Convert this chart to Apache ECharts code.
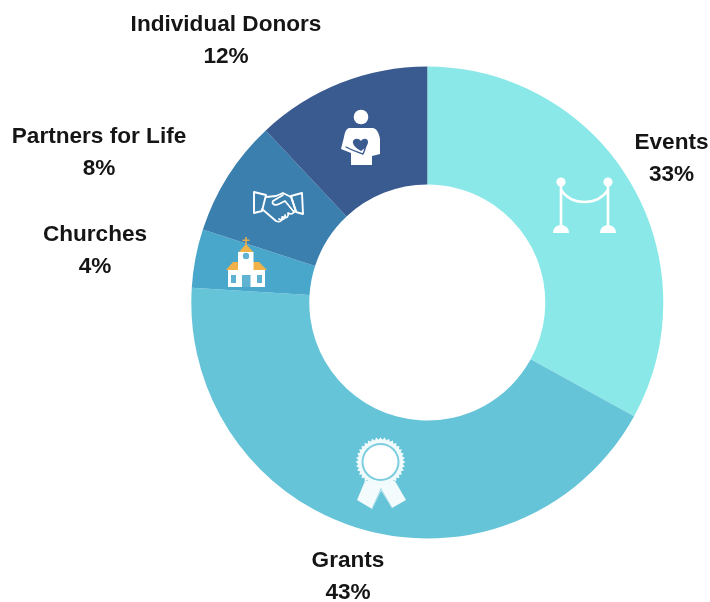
<!DOCTYPE html>
<html><head><meta charset="utf-8">
<style>html,body{margin:0;padding:0;background:#fff}#c{width:710px;height:602px}</style>
<script src="https://cdn.jsdelivr.net/npm/echarts@6/dist/echarts.min.js"></script>
</head><body><div id="c"></div>
<script>
const categories = ["Events","Grants","Churches","Partners for Life","Individual Donors"];
const values = [33,43,4,8,12];
const colors = ["#8AE8E8","#66C4D8","#48A7CA","#3A7FAE","#3A5B90"];
const labelCenters = [[671.5,159],[348,577],[95,251],[99,153],[226,41]];

const W="#ffffff";
function line(d,w,c){return {type:'path',shape:{pathData:d},style:{fill:'none',stroke:c||W,lineWidth:w,lineCap:'round',lineJoin:'round'}};}
function fill(d,c){return {type:'path',shape:{pathData:d},style:{fill:c||W}};}
function circ(x,y,r,c){return {type:'circle',shape:{cx:x,cy:y,r:r},style:{fill:c||W}};}
function rect(x,y,w,h,c){return {type:'rect',shape:{x:x,y:y,width:w,height:h},style:{fill:c||W}};}
function rosetteEdge(){let d="";const n=36;for(let i=0;i<n*2;i++){const r=i%2?22.3:24.8,a=i*Math.PI/n;d+=(i?"L":"M")+(380.5+r*Math.cos(a)).toFixed(1)+" "+(462+r*Math.sin(a)).toFixed(1);}return d+"Z";}

const icons=[
 // stanchion
 circ(561,182,4.6),circ(608,182,4.6),
 line("M561 186L561 226",2.6),line("M608 186L608 226",2.6),
 line("M561 190C572 206 597 206 608 190",2.4),
 fill("M553 233C553 227 558 225 561 225C564 225 569 227 569 233Z"),
 fill("M600 233C600 227 605 225 608 225C611 225 616 227 616 233Z"),
 // rosette ribbons then medal
 fill("M365 481L357 500L372 509L382 489L395 481Z","#F3FBFC"),
 fill("M395 481L406 500L392 508L380 489L366 481Z","#F3FBFC"),
 line("M381 489L372 509",1,"#9ADAE6"),
 line("M381 489L392 508",1,"#9ADAE6"),
 fill(rosetteEdge(),"#F2FBFC"),
 circ(380.5,462,19,"#7CCEDF"),circ(380.5,462,17,W),
 // person
 circ(361,117,7.3),
 fill("M349 128L373 128C377 129 379 133 380 139L380 154L372 156L372 165L351 165L351 153L341 149L344 137C345 132 346 129 349 128Z"),
 fill("M361 141C358 137 352 139 353 143C354 147 358 149 361 151C364 149 368 146 368 142C368 138 363 138 361 141Z","#3A5B90"),
 line("M346 147C353 151 358 152 363 154C365 149 366 147 366 144",1.4,"#3A5B90"),
 // handshake
 line("M254 192L266 195L262 211L254 213Z",1.9),
 line("M302 193L291 196L296 212L303 214Z",1.9),
 line("M266 197L276 196L283 193L291 197L296 211",1.9),
 line("M283 195L273 201C271 204 275 206 279 204L285 201L294 212",1.8),
 line("M262 209L276 221C280 223 283 220 282 217M279 219C283 221 286 218 285 215M283 217C287 219 289 216 288 213C292 215 294 213 294 211",1.8),
 // church
 rect(245.2,237,1.6,9,"#E3AC55"),rect(242.5,239.5,7,1.5,"#E3AC55"),
 fill("M246 244L238 253L254 253Z","#F2B24A"),
 fill("M226 270L233 262L259 262L267 270Z","#F2B24A"),
 rect(228,270,37,17),rect(238,252,15.5,35),
 circ(246,256,3.2,"#5FB2D2"),
 rect(242,275,8.5,12,"#5FB2D2"),
 rect(231,275,5,8,"#5FB2D2"),rect(257,275,5,8,"#5FB2D2")
];

const chart=echarts.init(document.getElementById('c'),null,{renderer:'canvas'});
chart.setOption({
 animation:false,
 backgroundColor:'#ffffff',
 series:[{
  type:'pie',
  center:[427.3,302.5],
  radius:[118,236],
  startAngle:90,
  clockwise:true,
  silent:true,
  color:colors,
  itemStyle:{borderWidth:0},
  data:categories.map((n,i)=>({name:n,value:values[i]})),
  label:{
   show:true,position:'outside',overflow:'none',
   formatter:p=>p.name+"\n"+p.value+"%",
   fontFamily:"Liberation Sans",fontWeight:'bold',fontSize:22.6,lineHeight:32,color:'#151515',align:'center',width:260
  },
  labelLine:{show:false},
  labelLayout:function(p){
   const c=labelCenters[p.dataIndex];
   return {x:c[0],y:c[1],align:'center',verticalAlign:'middle'};
  }
 },{
  type:'custom',
  coordinateSystem:'none',
  silent:true,
  z:10,
  data:[0],
  renderItem:function(){return {type:'group',children:icons};}
 }]
});
</script></body></html>
